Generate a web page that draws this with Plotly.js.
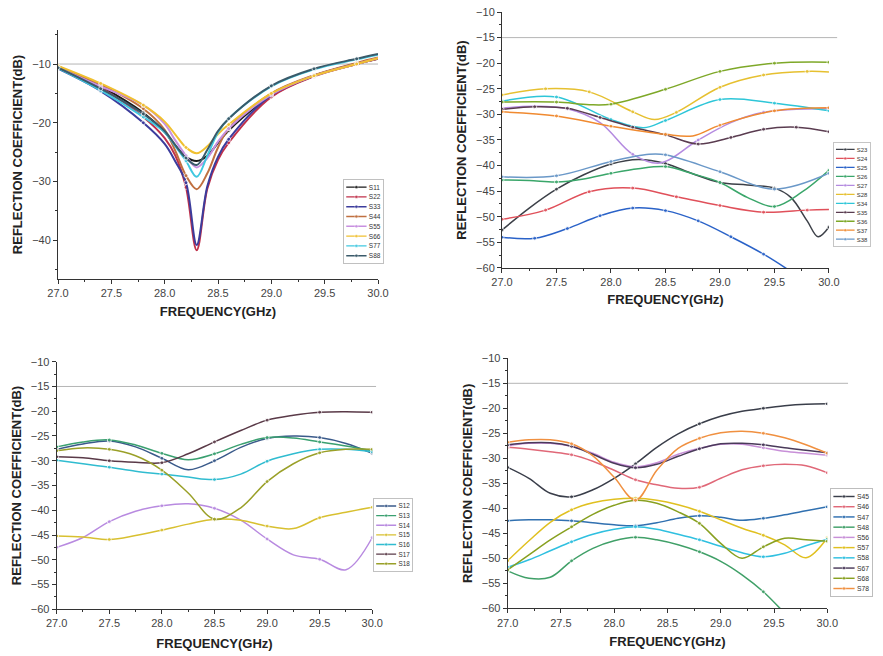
<!DOCTYPE html>
<html>
<head>
<meta charset="utf-8">
<script src="https://cdn.plot.ly/plotly-3.0.1.min.js"></script>
<style>
  html, body { margin: 0; padding: 0; background: #fff; }
  #chart { width: 883px; height: 656px; }
</style>
</head>
<body>
<div id="chart"></div>
<script>
// ---------- Panel 1: reflection coefficients S11 ... S88 ----------
const P1_FREQ = [27.0, 27.4, 27.8, 28.0, 28.1, 28.2, 28.3, 28.4, 28.5, 28.6, 29.0, 29.4, 29.8, 30.0];
const S11 = [-10.4, -13.8, -18.3, -21.6, -23.9, -25.8, -26.5, -25.6, -23.4, -21.3, -15.4, -12.0, -10.0, -9.1];
const S22 = [-10.4, -14.0, -19.0, -22.6, -25.6, -31.0, -41.7, -31.2, -26.3, -23.4, -15.6, -12.1, -10.0, -9.1];
const S33 = [-10.8, -14.6, -20.0, -23.6, -26.6, -30.2, -40.8, -30.8, -25.8, -22.8, -15.3, -12.0, -9.9, -9.0];
const S44 = [-10.5, -13.5, -17.6, -21.2, -24.8, -29.0, -31.3, -28.6, -24.2, -21.0, -15.0, -11.9, -9.8, -8.9];
const S55 = [-10.6, -13.8, -17.0, -20.2, -23.0, -25.6, -27.6, -26.0, -23.2, -21.0, -15.2, -12.0, -10.0, -9.0];
const S66 = [-10.3, -13.3, -17.0, -19.8, -22.0, -24.2, -25.2, -24.0, -21.9, -20.3, -15.0, -12.0, -10.0, -9.0];
const S77 = [-10.7, -14.5, -19.0, -21.6, -24.0, -26.5, -29.2, -25.6, -21.6, -19.3, -13.8, -10.9, -9.2, -8.4];
const S88 = [-10.6, -14.2, -18.5, -21.4, -23.8, -26.0, -27.2, -24.6, -21.4, -19.3, -13.7, -10.8, -9.1, -8.3];

// ---------- Panel 2: S23 ... S38 ----------
const F_S23 = [27.0, 27.25, 27.5, 27.75, 28.0, 28.25, 28.5, 28.75, 29.0, 29.25, 29.5, 29.65, 29.8, 29.9, 30.0];
const S23 = [-52.6, -48.3, -44.6, -41.8, -39.7, -38.8, -39.6, -41.6, -43.3, -43.8, -44.4, -46.2, -50.8, -53.9, -52.0];
const F_S24 = [27.0, 27.4, 27.8, 28.2, 28.6, 29.0, 29.4, 29.8, 30.0];
const S24 = [-50.5, -48.7, -45.1, -44.4, -46.1, -47.8, -49.1, -48.7, -48.6];
const F_S25 = [27.0, 27.3, 27.6, 27.9, 28.2, 28.5, 28.8, 29.1, 29.4, 29.7, 30.0];
const S25 = [-54.0, -54.2, -52.3, -49.8, -48.3, -48.8, -50.8, -53.9, -57.3, -61.4, -66.0];
const F_S26 = [27.0, 27.25, 27.5, 27.75, 28.0, 28.25, 28.5, 28.75, 29.0, 29.25, 29.5, 29.75, 30.0];
const S26 = [-42.8, -42.9, -43.2, -42.6, -41.5, -40.6, -40.2, -41.6, -43.3, -46.2, -48.0, -45.2, -40.9];
const F_S27 = [27.0, 27.3, 27.6, 27.9, 28.2, 28.45, 28.8, 29.1, 29.4, 29.7, 30.0];
const S27 = [-28.8, -28.4, -28.9, -31.6, -37.8, -39.5, -35.0, -31.6, -29.6, -29.0, -28.9];
const F_S28 = [27.0, 27.4, 27.8, 28.2, 28.4, 28.6, 29.0, 29.4, 29.8, 30.0];
const S28 = [-26.2, -25.0, -25.6, -29.5, -31.0, -29.6, -24.7, -22.3, -21.6, -21.7];
const F_S34 = [27.0, 27.5, 28.0, 28.3, 28.5, 29.0, 29.5, 30.0];
const S34 = [-27.4, -26.6, -31.0, -32.6, -31.2, -27.1, -27.8, -29.3];
const F_S35 = [27.0, 27.3, 27.6, 27.9, 28.2, 28.5, 28.8, 29.1, 29.4, 29.7, 30.0];
const S35 = [-29.0, -28.5, -28.8, -30.6, -32.5, -34.0, -35.8, -34.5, -32.9, -32.5, -33.4];
const F_S36 = [27.0, 27.5, 27.8, 28.0, 28.5, 29.0, 29.5, 30.0];
const S36 = [-27.6, -27.6, -28.1, -28.0, -25.1, -21.6, -20.0, -19.8];
const F_S37 = [27.0, 27.5, 28.0, 28.5, 28.75, 29.0, 29.5, 30.0];
const S37 = [-29.5, -30.3, -32.3, -33.9, -34.2, -32.1, -29.3, -28.7];
const F_S38 = [27.0, 27.5, 28.0, 28.35, 28.5, 29.0, 29.5, 30.0];
const S38 = [-42.2, -42.0, -39.2, -37.8, -37.9, -41.2, -44.6, -41.5];

// ---------- Panel 3: S12 ... S18 ----------
const P3_FREQ = [27.0, 27.25, 27.5, 27.75, 28.0, 28.25, 28.5, 28.75, 29.0, 29.25, 29.5, 29.75, 30.0];
const S12 = [-27.7, -26.6, -26.0, -27.2, -29.5, -31.8, -30.0, -27.3, -25.5, -25.0, -25.3, -26.5, -28.5];
const S13 = [-27.2, -26.2, -25.8, -26.8, -28.5, -29.8, -28.6, -26.7, -25.3, -25.4, -26.2, -27.0, -28.0];
const S14 = [-47.5, -45.5, -42.3, -40.2, -39.1, -38.7, -39.6, -42.0, -45.8, -49.0, -49.9, -52.0, -45.5];
const S15 = [-45.2, -45.4, -45.9, -45.1, -44.0, -42.8, -41.8, -42.0, -43.2, -43.7, -41.5, -40.4, -39.4];
const S16 = [-29.9, -30.6, -31.3, -32.1, -32.7, -33.3, -33.8, -32.7, -30.1, -28.6, -27.7, -27.7, -28.2];
const S17 = [-29.2, -29.4, -30.0, -30.3, -30.4, -28.6, -26.2, -23.9, -21.8, -20.8, -20.2, -20.1, -20.2];
const S18 = [-28.0, -27.4, -27.7, -29.0, -31.9, -36.5, -41.8, -39.5, -34.2, -30.6, -28.4, -27.7, -27.7];

// ---------- Panel 4: S45 ... S78 ----------
const P4_FREQ = [27.0, 27.2, 27.4, 27.6, 27.8, 28.0, 28.2, 28.4, 28.6, 28.8, 29.0, 29.2, 29.4, 29.6, 29.8, 30.0];
const S45 = [-31.8, -34.0, -37.0, -37.7, -36.3, -34.0, -31.1, -27.8, -25.1, -23.1, -21.6, -20.6, -20.0, -19.5, -19.2, -19.1];
const S46 = [-27.8, -28.2, -28.7, -29.3, -30.6, -32.4, -34.3, -35.3, -36.0, -35.8, -34.0, -32.3, -31.5, -31.2, -31.5, -32.9];
const S47 = [-42.5, -42.3, -42.3, -42.5, -42.9, -43.3, -43.5, -42.9, -42.0, -41.5, -41.8, -42.4, -42.0, -41.3, -40.5, -39.7];
const S48 = [-52.5, -54.0, -53.8, -50.5, -48.0, -46.5, -45.8, -46.3, -47.3, -48.7, -50.6, -53.3, -56.7, -61.0, -65.5, -70.0];
const S56 = [-27.5, -27.0, -27.0, -27.6, -29.0, -30.8, -31.7, -30.9, -29.2, -28.0, -27.2, -27.2, -27.9, -28.6, -29.0, -29.4];
const S57 = [-50.5, -46.5, -42.8, -40.3, -38.9, -38.2, -38.0, -38.4, -39.3, -40.6, -42.3, -44.0, -45.4, -47.3, -49.9, -45.9];
const S58 = [-51.8, -50.3, -48.5, -46.7, -45.2, -44.2, -43.7, -44.2, -45.2, -46.3, -47.6, -48.9, -49.7, -49.0, -47.5, -46.2];
const S67 = [-27.3, -26.9, -26.9, -27.6, -29.2, -31.0, -31.9, -31.2, -29.6, -28.1, -27.1, -27.0, -27.3, -27.9, -28.4, -28.9];
const S68 = [-52.3, -49.3, -46.3, -43.7, -41.2, -39.4, -38.4, -39.0, -40.7, -43.0, -47.0, -50.0, -47.7, -46.0, -46.3, -46.6];
const S78 = [-26.8, -26.3, -26.3, -27.1, -29.5, -33.8, -38.4, -32.4, -28.0, -26.0, -24.9, -24.6, -25.0, -25.9, -27.3, -29.0];

// Threshold levels drawn as grey reference lines
const THRESHOLDS = [-10, -15, -15, -15];

// ---------- Styling ----------
const FONT = 'Liberation Sans, Arial, sans-serif';
const TICK_FONT = { family: FONT, size: 11, color: '#444' };
const TITLE_FONT = { family: FONT, size: 13, color: '#222', weight: 'bold' };

const PANELS = [
  { xa: 'x',  ya: 'y',  legend: 'legend',  width: 2,   xdom: [0.0657, 0.4281], ydom: [0.5747, 0.9543],
    yrange: [-46.6, -4.2], ydtick: 10, yminor: 5, lineEnd: 1.0, xStandoff: 8,
    series: [
      ['S11', P1_FREQ, S11, '#1a1a1a', 0.4], ['S22', P1_FREQ, S22, '#c0304a', 0.4],
      ['S33', P1_FREQ, S33, '#3c3c9c', 0.4], ['S44', P1_FREQ, S44, '#c07040', 0.4],
      ['S55', P1_FREQ, S55, '#c890e0', 0.4], ['S66', P1_FREQ, S66, '#f0c030', 0.4],
      ['S77', P1_FREQ, S77, '#40c8e0', 0.4], ['S88', P1_FREQ, S88, '#3a5a6a', 0.4]
    ] },
  { xa: 'x2', ya: 'y2', legend: 'legend2', width: 1.5, xdom: [0.5685, 0.9388], ydom: [0.5915, 0.9817],
    yrange: [-60, -10], ydtick: 5, yminor: 2.5, lineEnd: 1.025, xStandoff: 7,
    series: [
      ['S23', F_S23, S23, '#3c4048', 0.5], ['S24', F_S24, S24, '#e0505a', 0.4],
      ['S25', F_S25, S25, '#2a62c8', 0.3], ['S26', F_S26, S26, '#3aa66a', 0.5],
      ['S27', F_S27, S27, '#b48ae0', 0.6], ['S28', F_S28, S28, '#e6c030', 0.4],
      ['S34', F_S34, S34, '#2ec6d8', 0.5], ['S35', F_S35, S35, '#5a3c50', 0.3],
      ['S36', F_S36, S36, '#7ea828', 0.5], ['S37', F_S37, S37, '#f08a30', 0.5],
      ['S38', F_S38, S38, '#6a98c8', 0.5]
    ] },
  { xa: 'x3', ya: 'y3', legend: 'legend3', width: 1.5, xdom: [0.0642, 0.4216], ydom: [0.0712, 0.4486],
    yrange: [-60, -10], ydtick: 5, yminor: 2.5, lineEnd: 1.012, xStandoff: 10,
    series: [
      ['S12', P3_FREQ, S12, '#3a5a8a', 0.5], ['S13', P3_FREQ, S13, '#3aa070', 0.5],
      ['S14', P3_FREQ, S14, '#b88ae0', 0.5], ['S15', P3_FREQ, S15, '#d8c030', 0.5],
      ['S16', P3_FREQ, S16, '#30bcd0', 0.5], ['S17', P3_FREQ, S17, '#5a3a48', 0.5],
      ['S18', P3_FREQ, S18, '#9aa028', 0.5]
    ] },
  { xa: 'x4', ya: 'y4', legend: 'legend4', width: 1.5, xdom: [0.5749, 0.9369], ydom: [0.0727, 0.4538],
    yrange: [-60, -10], ydtick: 5, yminor: 2.5, lineEnd: 1.065, xStandoff: 9,
    series: [
      ['S45', P4_FREQ, S45, '#3a3e4a', 0.6], ['S46', P4_FREQ, S46, '#e06878', 0.6],
      ['S47', P4_FREQ, S47, '#3070b0', 0.6], ['S48', P4_FREQ, S48, '#40a068', 0.6],
      ['S56', P4_FREQ, S56, '#c890d8', 0.6], ['S57', P4_FREQ, S57, '#e0c020', 0.6],
      ['S58', P4_FREQ, S58, '#30c0e0', 0.6], ['S67', P4_FREQ, S67, '#4a3a5a', 0.6],
      ['S68', P4_FREQ, S68, '#88a020', 0.6], ['S78', P4_FREQ, S78, '#f09040', 0.6]
    ] }
];

// Legend boxes in pixels: [left, top, height]
const LEGEND_BOX = { legend: [343, 179, 85], legend2: [833, 142, 105], legend3: [373, 498, 74], legend4: [830, 488, 109] };

// Markers are drawn every `step` GHz, as in the measurement plots
function markerSizes(freq, step) {
  return freq.map(f => {
    const k = (f - 27) / step;
    return Math.abs(k - Math.round(k)) < 1e-6 ? 4 : 0;
  });
}

const traces = [];
const layout = {
  width: 883, height: 656,
  margin: { l: 0, r: 0, t: 0, b: 0 },
  paper_bgcolor: '#fff', plot_bgcolor: '#fff',
  font: { family: FONT },
  shapes: []
};

PANELS.forEach((p, i) => {
  p.series.forEach(([name, f, db, color, step]) => {
    traces.push({
      type: 'scatter', mode: 'lines+markers', name: name,
      x: f, y: db, xaxis: p.xa, yaxis: p.ya, legend: p.legend,
      line: { color: color, width: p.width, shape: 'spline', smoothing: 1 },
      marker: { color: color, size: markerSizes(f, step), symbol: 'circle' },
      hoverinfo: 'skip'
    });
  });

  const xKey = 'xaxis' + (i ? i + 1 : '');
  const yKey = 'yaxis' + (i ? i + 1 : '');
  layout[xKey] = {
    domain: p.xdom, anchor: p.ya, range: [27, 30],
    tick0: 27, dtick: 0.5, tickformat: '.1f',
    ticks: 'outside', ticklen: 4, tickcolor: '#333',
    minor: { ticks: 'outside', ticklen: 2, dtick: 0.25, tick0: 27, tickcolor: '#333' },
    showline: true, linecolor: '#333', linewidth: 1,
    showgrid: false, zeroline: false, tickfont: TICK_FONT,
    title: { text: 'FREQUENCY(GHz)', font: TITLE_FONT, standoff: p.xStandoff }
  };
  layout[yKey] = {
    domain: p.ydom, anchor: p.xa, range: p.yrange,
    tick0: 0, dtick: p.ydtick,
    ticks: 'outside', ticklen: 4, tickcolor: '#333',
    minor: { ticks: 'outside', ticklen: 2, dtick: p.yminor, tick0: 0, tickcolor: '#333' },
    showline: true, linecolor: '#333', linewidth: 1,
    showgrid: false, zeroline: false, tickfont: TICK_FONT,
    title: { text: 'REFLECTION COEFFICIENT(dB)', font: TITLE_FONT, standoff: 6 }
  };
  layout[p.legend] = {
    x: 0.5, y: 1, xanchor: 'left', yanchor: 'top',
    bgcolor: '#fff', bordercolor: '#bbb', borderwidth: 2,
    font: { family: FONT, size: 14, color: '#333' },
    itemsizing: 'constant', itemwidth: 44, tracegroupgap: 0
  };
  layout.shapes.push({
    type: 'line', xref: p.xa + ' domain', yref: p.ya,
    x0: 0, x1: p.lineEnd, y0: THRESHOLDS[i], y1: THRESHOLDS[i],
    line: { color: '#b5b5b5', width: 1 }, layer: 'below'
  });
});

Plotly.newPlot('chart', traces, layout, { staticPlot: true, displayModeBar: false }).then(gd => {
  // compact legends: scale each one to its box, with slimmer key lines and dots
  Object.keys(LEGEND_BOX).forEach(id => {
    const g = gd.querySelector('g.infolayer > g.' + id);
    if (!g) return;
    const bg = g.querySelector('rect.bg');
    const h = parseFloat(bg.getAttribute('height')) + 2;
    const [left, top, target] = LEGEND_BOX[id];
    const s = target / h;
    g.setAttribute('transform', `translate(${left},${top}) scale(${s})`);
    g.querySelectorAll('.legendlines path').forEach(el => { el.style.strokeWidth = '3px'; });
    g.querySelectorAll('.legendpoints path.scatterpts').forEach(el => {
      const t = el.getAttribute('transform') || '';
      el.setAttribute('transform', t + ' scale(0.6)');
    });
  });
});
</script>
</body>
</html>
